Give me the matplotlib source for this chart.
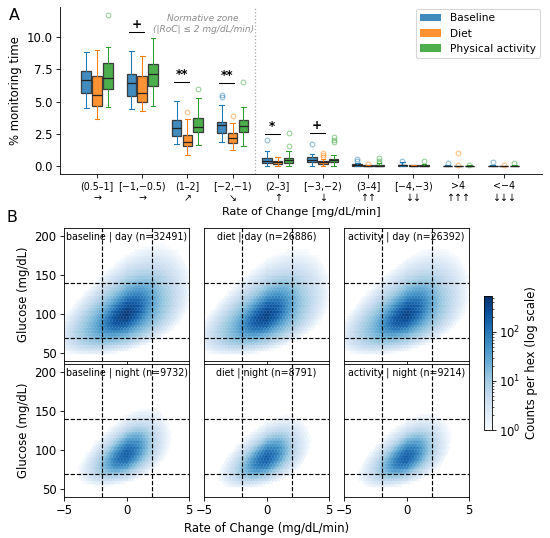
import numpy as np
import matplotlib
matplotlib.use("Agg")
import matplotlib.pyplot as plt
from matplotlib.colors import LogNorm, to_rgba
from matplotlib.patches import Patch

# ---- panel A: box statistics (% monitoring time) ----
groups = ["(0.5–1]\n→", "[−1,−0.5)\n→", "(1–2]\n↗", "[−2,−1)\n↘", "(2–3]\n↑",
          "[−3,−2)\n↓", "(3–4]\n↑↑", "[−4,−3)\n↓↓", ">4\n↑↑↑", "<−4\n↓↓↓"]
conditions = ["Baseline", "Diet", "Physical activity"]

base_lo = [4.48, 4.46, 1.73, 1.89, 0.00, 0.05, 0.00, 0.00, 0.00, 0.00]
base_q1 = [5.64, 5.44, 2.35, 2.55, 0.23, 0.34, 0.01, 0.01, 0.00, 0.00]
base_med = [6.68, 6.41, 2.94, 3.17, 0.44, 0.52, 0.07, 0.07, 0.02, 0.02]
base_q3 = [7.37, 7.14, 3.61, 3.43, 0.65, 0.70, 0.15, 0.14, 0.06, 0.06]
base_hi = [8.84, 8.92, 5.05, 4.77, 1.16, 0.96, 0.28, 0.30, 0.12, 0.12]
base_fl = [[], [], [], [5.54, 5.36], [2.00], [1.75], [0.57, 0.40], [0.44], [0.23], [0.34]]

diet_lo = [3.66, 4.30, 0.88, 1.27, 0.00, 0.00, 0.00, 0.00, 0.00, 0.00]
diet_q1 = [4.69, 4.98, 1.58, 1.81, 0.15, 0.21, 0.00, 0.00, 0.00, 0.00]
diet_med = [5.49, 5.70, 1.91, 2.22, 0.31, 0.36, 0.03, 0.04, 0.01, 0.01]
diet_q3 = [7.01, 6.96, 2.40, 2.55, 0.44, 0.44, 0.07, 0.08, 0.03, 0.03]
diet_hi = [8.96, 8.50, 3.63, 3.32, 0.75, 0.57, 0.12, 0.10, 0.06, 0.05]
diet_fl = [[], [], [4.17], [3.89], [], [1.03, 0.85, 0.70], [0.18], [], [1.06, 0.13], [0.10]]

act_lo = [4.61, 4.67, 1.62, 1.55, 0.00, 0.05, 0.00, 0.00, 0.00, 0.00]
act_q1 = [5.95, 6.18, 2.66, 2.66, 0.28, 0.34, 0.01, 0.01, 0.00, 0.00]
act_med = [6.80, 7.11, 3.07, 3.09, 0.49, 0.46, 0.06, 0.05, 0.02, 0.03]
act_q3 = [8.01, 7.91, 3.74, 3.61, 0.67, 0.59, 0.14, 0.12, 0.04, 0.06]
act_hi = [9.20, 9.90, 5.26, 4.61, 1.21, 0.85, 0.24, 0.20, 0.08, 0.12]
act_fl = [[11.7], [], [5.95], [6.55], [2.58, 1.60], [2.24, 2.06, 1.88],
          [0.65, 0.42, 0.26], [0.43], [0.13], [0.26]]

# significance brackets (baseline vs diet)
sig_groups = [1, 2, 3, 4, 5]
sig_labels = ["+", "**", "**", "*", "+"]
sig_heights = [10.4, 6.5, 6.45, 2.5, 2.55]

# ---- panel B: hexbin panels, density parameters estimated from the figure ----
panel_titles = ["baseline | day", "diet | day", "activity | day",
                "baseline | night", "diet | night", "activity | night"]
n_obs = [32491, 26886, 26392, 9732, 8791, 9214]
glu_center = [101, 99, 100, 95, 90, 91]
roc_sd_core = [0.85, 0.85, 0.85, 0.70, 0.70, 0.70]
roc_sd_wide = [2.0, 2.0, 2.0, 1.5, 1.5, 1.5]
logglu_sd_core = [0.12, 0.12, 0.12, 0.11, 0.11, 0.11]
logglu_sd_wide = [0.25, 0.25, 0.25, 0.21, 0.21, 0.21]
corr = [0.55, 0.55, 0.55, 0.55, 0.55, 0.55]
core_frac = 0.62

colors = ["#1f77b4", "#ff7f0e", "#2ca02c"]

W, H, DPI = 550, 538, 76
fig = plt.figure(figsize=(W / DPI, H / DPI), dpi=DPI)

# ------------------ panel A ------------------
axA = fig.add_axes([60 / W, 1 - 174 / H, 482 / W, 167 / H])
stats_by_cond = [
    (base_lo, base_q1, base_med, base_q3, base_hi, base_fl),
    (diet_lo, diet_q1, diet_med, diet_q3, diet_hi, diet_fl),
    (act_lo, act_q1, act_med, act_q3, act_hi, act_fl),
]
offsets = [-0.24, 0.0, 0.24]
xpos = np.arange(len(groups))
for k, (lo, q1, med, q3, hi, fl) in enumerate(stats_by_cond):
    stats = []
    for i in range(len(groups)):
        stats.append(dict(whislo=lo[i], q1=q1[i], med=med[i], q3=q3[i],
                          whishi=hi[i], fliers=fl[i]))
    c = colors[k]
    axA.bxp(stats, positions=xpos + offsets[k], widths=0.21, patch_artist=True,
            manage_ticks=False,
            boxprops=dict(facecolor=to_rgba(c, 0.85), edgecolor="#3c3c3c", linewidth=1.2),
            whiskerprops=dict(color=c, linewidth=1.0),
            capprops=dict(color=c, linewidth=1.0),
            medianprops=dict(color="#222222", linewidth=1.2),
            flierprops=dict(marker="o", markerfacecolor="none", markeredgecolor=c,
                            markersize=4.5, alpha=0.5))

for g, lab, h in zip(sig_groups, sig_labels, sig_heights):
    axA.plot([g - 0.29, g + 0.04], [h, h], color="black", lw=1.0)
    axA.text(g - 0.125, h + 0.1, lab, ha="center", va="bottom", fontsize=11.5,
             fontweight="bold")

axA.axvline(3.5, color="#aaaaaa", ls=":", lw=1.2)
axA.text(2.35, 11.0, "Normative zone\n(|RoC| ≤ 2 mg/dL/min)", ha="center", va="center",
         fontsize=8.5, style="italic", color="#8c8c8c")

axA.set_xlim(-0.82, 9.85)
axA.set_ylim(-0.59, 12.32)
axA.set_yticks([0, 2.5, 5, 7.5, 10])
axA.set_xticks(xpos)
axA.set_xticklabels(groups, fontsize=9)
axA.tick_params(axis="y", labelsize=11)
axA.set_ylabel("% monitoring time", fontsize=11)
axA.set_xlabel("Rate of Change [mg/dL/min]", fontsize=10.5)
axA.spines["top"].set_visible(False)
axA.spines["right"].set_visible(False)
handles = [Patch(facecolor=to_rgba(c, 0.85), label=l) for c, l in zip(colors, conditions)]
axA.legend(handles=handles, loc="upper right", fontsize=10, borderaxespad=0.2)

# ------------------ panel B ------------------
xmin, xmax, ymin, ymax = -5, 5, 40, 210
gx = np.linspace(xmin, xmax, 241)
gy = np.linspace(ymin, ymax, 241)
XX, YY = np.meshgrid(gx, gy)
dA = (gx[1] - gx[0]) * (gy[1] - gy[0])


def bvn(x, u, mu_u, sx, su, r):
    zx = x / sx
    zu = (u - mu_u) / su
    q = (zx ** 2 - 2 * r * zx * zu + zu ** 2) / (1 - r ** 2)
    return np.exp(-0.5 * q) / (2 * np.pi * sx * su * np.sqrt(1 - r ** 2))


norm = LogNorm(vmin=1, vmax=540)
col_left = [64, 204, 344]
row_top = [228, 364]
hb = None
for p in range(6):
    r, cidx = divmod(p, 3)
    ax = fig.add_axes([col_left[cidx] / W, 1 - (row_top[r] + 133) / H, 125 / W, 133 / H])
    U = np.log(YY)
    mu = np.log(glu_center[p])
    dens = (core_frac * bvn(XX, U, mu, roc_sd_core[p], logglu_sd_core[p], corr[p])
            + (1 - core_frac) * bvn(XX, U, mu, roc_sd_wide[p], logglu_sd_wide[p], corr[p] - 0.05)) / YY
    w = n_obs[p] * dens * dA
    hb = ax.hexbin(XX.ravel(), YY.ravel(), C=w.ravel(), reduce_C_function=np.sum,
                   gridsize=40, extent=(xmin, xmax, ymin, ymax), cmap="Blues", norm=norm,
                   linewidths=0.2)
    arr = hb.get_array()
    hb.set_array(np.ma.masked_less(arr, 1))
    for v in (-2, 2):
        ax.axvline(v, color="black", ls="--", lw=1.1)
    for v in (70, 140):
        ax.axhline(v, color="black", ls="--", lw=1.1)
    ax.set_xlim(xmin, xmax)
    ax.set_ylim(ymin, ymax)
    ax.set_xticks([-5, 0, 5])
    ax.set_yticks([50, 100, 150, 200])
    ax.tick_params(labelsize=11)
    ax.text(0.5, 0.975, f"{panel_titles[p]} (n={n_obs[p]})", transform=ax.transAxes,
            ha="center", va="top", fontsize=9)
    if r == 0:
        ax.tick_params(labelbottom=False)
    if cidx == 0:
        ax.set_ylabel("Glucose (mg/dL)", fontsize=11)
    else:
        ax.tick_params(labelleft=False, left=False)
    if r == 1 and cidx == 1:
        ax.set_xlabel("Rate of Change (mg/dL/min)", fontsize=11)

cax = fig.add_axes([484 / W, 1 - 430 / H, 8 / W, 134 / H])
cb = fig.colorbar(hb, cax=cax)
cb.set_label("Counts per hex (log scale)", fontsize=11)
cb.ax.tick_params(labelsize=11)

fig.text(9 / W, 1 - 8 / H, "A", ha="left", va="top", fontsize=15)
fig.text(7 / W, 1 - 210 / H, "B", ha="left", va="top", fontsize=15)

fig.savefig("out.png", dpi=DPI)
